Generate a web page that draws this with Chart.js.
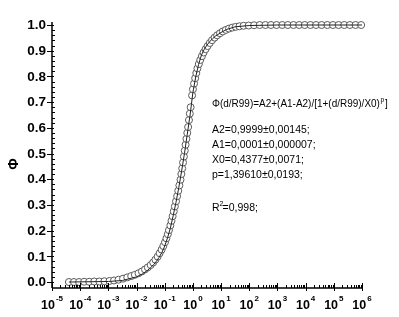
<!DOCTYPE html>
<html>
<head>
<meta charset="utf-8">
<script src="https://cdn.jsdelivr.net/npm/chart.js@4/dist/chart.umd.min.js"></script>
<style>
html,body{margin:0;padding:0;background:#fff;}
#wrap{position:relative;width:399px;height:317px;}
</style>
</head>
<body>
<div id="wrap"><canvas id="c"></canvas></div>
<script>
// ---- data (x given as log10(d/R99)) ----
const logD = [-4.40,-4.22,-4.04,-3.86,-3.68,-3.50,-3.32,-3.14,
  -2.96,-2.80,-2.64,-2.48,-2.33,-2.19,-2.06,-1.93,-1.81,-1.70,
  -1.60,-1.50,-1.41,-1.33,-1.25,-1.18,-1.11,-1.05,-0.99,-0.94,
  -0.89,-0.85,-0.80,-0.76,-0.72,-0.68,-0.64,-0.60,-0.56,-0.52,
  -0.48,-0.44,-0.41,-0.38,-0.35,-0.32,-0.29,-0.26,-0.23,-0.20,
  -0.17,-0.14,-0.11,-0.08,-0.03,0.00,0.04,0.08,0.12,0.16,
  0.21,0.26,0.32,0.38,0.45,0.52,0.60,0.68,0.77,0.86,
  0.96,1.06,1.17,1.28,1.40,1.52,1.65,1.80,1.98,2.17,
  2.37,2.57,2.77,2.97,3.17,3.37,3.57,3.77,3.97,4.17,4.37,4.57,4.77,4.97,5.17,5.37,5.57,5.77,5.97];
const phi = [0.000,0.000,0.000,0.001,0.001,0.002,0.002,0.003,
  0.004,0.006,0.009,0.013,0.018,0.023,0.028,0.034,0.041,0.049,
  0.057,0.066,0.076,0.087,0.099,0.112,0.126,0.140,0.155,0.170,
  0.186,0.202,0.220,0.238,0.256,0.275,0.294,0.314,0.334,0.355,
  0.376,0.398,0.420,0.442,0.465,0.488,0.511,0.534,0.557,0.580,
  0.603,0.630,0.655,0.680,0.726,0.750,0.772,0.793,0.813,0.831,
  0.848,0.864,0.879,0.893,0.906,0.918,0.930,0.941,0.951,0.960,
  0.968,0.975,0.981,0.986,0.990,0.993,0.995,0.997,0.998,0.999,
  1,1,1,1,1,1,1,1,1,1,1,1,1,1,1,1,1,1,1];
const fitLogD = [-4.4,-3.0,-2.5,-2.0,-1.8,-1.6,-1.5,-1.4,-1.3,-1.2,-1.1,-1.0,-0.9,-0.8,-0.7,-0.6,-0.5,-0.4,-0.3,-0.2,-0.1,0.0,0.1,0.2,0.3,0.4,0.5,0.6,0.7,0.8,1.0,1.2,1.5,2.0,3.0,6.0];
const fitPhi  = [0.000,0.002,0.006,0.020,0.031,0.046,0.056,0.067,0.080,0.096,0.115,0.140,0.172,0.210,0.258,0.310,0.368,0.432,0.500,0.575,0.650,0.738,0.798,0.846,0.882,0.905,0.922,0.936,0.947,0.957,0.971,0.983,0.993,0.998,1.0,1.0];
// axis ticks / labels
const xTickExp = [-5,-4,-3,-2,-1,0,1,2,3,4,5,6];
const yTicks = [0.0,0.1,0.2,0.3,0.4,0.5,0.6,0.7,0.8,0.9,1.0];
const yTitle = 'Φ';
const annotation = {
  formula: 'Φ(d/R99)=A2+(A1-A2)/[1+(d/R99)/X0)',
  formulaSup: 'p',
  formulaEnd: ']',
  params: ['A2=0,9999±0,00145;','A1=0,0001±0,000007;','X0=0,4377±0,0071;','p=1,39610±0,0193;'],
  r2: ['R','2','=0,998;']
};

const points = logD.map((v,i)=>({x:Math.pow(10,v), y:phi[i]}));
const fitPts = fitLogD.map((v,i)=>({x:Math.pow(10,v), y:fitPhi[i]}));

const FONT = '"Liberation Sans", Arial, sans-serif';

const decor = {
  id:'decor',
  afterDraw(chart){
    const ctx = chart.ctx;
    const xs = chart.scales.x, ys = chart.scales.y;
    const a = chart.chartArea;
    ctx.save();
    ctx.strokeStyle = '#000';
    ctx.fillStyle = '#000';
    // axis lines
    ctx.lineWidth = 1.5;
    ctx.beginPath();
    ctx.moveTo(a.left, a.top); ctx.lineTo(a.left, a.bottom);
    ctx.moveTo(a.left, a.bottom); ctx.lineTo(a.right, a.bottom);
    ctx.stroke();
    ctx.lineWidth = 1;
    // y ticks
    ctx.beginPath();
    for (let k=0;k<=50;k++){
      const v = k*0.02;
      const py = Math.round(ys.getPixelForValue(v))+0.5;
      if (k%5===0){ ctx.moveTo(a.left-5, py); ctx.lineTo(a.left+2, py); }
      else { ctx.moveTo(a.left, py); ctx.lineTo(a.left+3, py); }
    }
    // x ticks
    for (let e=-5;e<=6;e++){
      for (let m=1;m<=9;m++){
        if (e===6 && m>1) break;
        const px = Math.round(xs.getPixelForValue(m*Math.pow(10,e)))+0.5;
        if (m===1){ ctx.moveTo(px, a.bottom+3); ctx.lineTo(px, a.bottom-5); }
        else { ctx.moveTo(px, a.bottom); ctx.lineTo(px, a.bottom-3); }
      }
    }
    ctx.stroke();
    // y labels
    ctx.font = 'bold 13.5px '+FONT;
    ctx.textAlign = 'right'; ctx.textBaseline = 'middle';
    yTicks.forEach(v=>{
      ctx.fillText(v.toFixed(1), a.left-6, ys.getPixelForValue(v)+0.5);
    });
    // x labels: 10 with superscript exponent
    xTickExp.forEach(e=>{
      const px = xs.getPixelForValue(Math.pow(10,e));
      ctx.font = 'bold 12.5px '+FONT;
      const wb = ctx.measureText('10').width;
      ctx.font = 'bold 8px '+FONT;
      const sup = String(e);
      const ws = ctx.measureText(sup).width;
      const x0 = px - (wb+ws+1)/2;
      ctx.textAlign = 'left'; ctx.textBaseline = 'alphabetic';
      ctx.font = 'bold 12.5px '+FONT;
      ctx.fillText('10', x0, 309);
      ctx.font = 'bold 8px '+FONT;
      ctx.fillText(sup, x0+wb+1, 301);
    });
    // y title
    ctx.save();
    ctx.translate(14, 164);
    ctx.rotate(-Math.PI/2);
    ctx.font = 'bold 14px '+FONT;
    ctx.textAlign = 'center'; ctx.textBaseline = 'middle';
    ctx.fillText(yTitle, 0, 0);
    ctx.restore();
    // annotation text
    ctx.textAlign = 'left'; ctx.textBaseline = 'middle';
    ctx.font = '10.5px '+FONT;
    const fx = 212;
    const scaleF = 0.95;
    ctx.save();
    ctx.translate(fx, 104);
    ctx.scale(scaleF, 1);
    ctx.fillText(annotation.formula, 0, 0);
    let w = ctx.measureText(annotation.formula).width;
    ctx.font = '7px '+FONT;
    ctx.fillText(annotation.formulaSup, w+0.5, -4);
    const ws2 = ctx.measureText(annotation.formulaSup).width;
    ctx.font = '10.5px '+FONT;
    ctx.fillText(annotation.formulaEnd, w+ws2+1.5, 0);
    ctx.restore();
    const py = [130,145,160,175];
    annotation.params.forEach((t,i)=>{ ctx.fillText(t, fx, py[i]); });
    ctx.fillText(annotation.r2[0], fx, 208);
    const wr = ctx.measureText(annotation.r2[0]).width;
    ctx.font = '7px '+FONT;
    ctx.fillText(annotation.r2[1], fx+wr, 204);
    ctx.font = '10.5px '+FONT;
    ctx.fillText(annotation.r2[2], fx+wr+3, 208);
    ctx.restore();
  }
};

new Chart(document.getElementById('c'), {
  type:'scatter',
  data:{datasets:[
    {label:'fit', data:fitPts, showLine:true, borderColor:'#222', borderWidth:1, pointRadius:0, fill:false, clip:false},
    {label:'data', data:points, showLine:false, pointRadius:3.5, pointBorderWidth:1, pointBorderColor:'#5a5a5a', pointBackgroundColor:'#fff', clip:false}
  ]},
  options:{
    responsive:true, maintainAspectRatio:false, animation:false,
    layout:{padding:{left:52, right:37, top:22, bottom:29}},
    plugins:{legend:{display:false}, tooltip:{enabled:false}},
    scales:{
      x:{type:'logarithmic', min:1e-5, max:1e6, display:false},
      y:{type:'linear', min:-0.0233, max:1.0117, display:false}
    }
  },
  plugins:[decor]
});
</script>
</body>
</html>
